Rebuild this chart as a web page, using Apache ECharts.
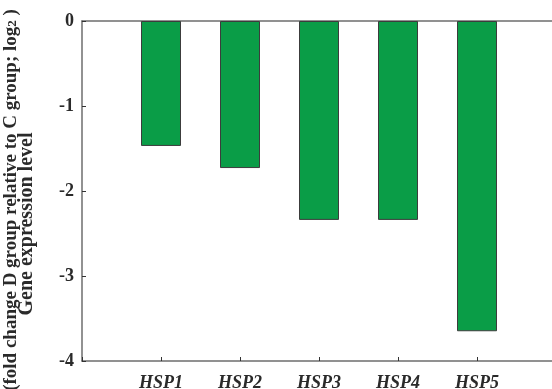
<!DOCTYPE html>
<html>
<head>
<meta charset="utf-8">
<script src="https://cdn.jsdelivr.net/npm/echarts@6/dist/echarts.min.js"></script>
<style>html,body{margin:0;padding:0;background:#fff}#c{width:552px;height:389px}</style>
</head>
<body>
<div id="c"></div>
<script>
var categories = ['HSP1', 'HSP2', 'HSP3', 'HSP4', 'HSP5'];
var values = [-1.47, -1.73, -2.34, -2.34, -3.65];
var yTicks = [0, -1, -2, -3, -4];

var axisCats = [''].concat(categories, ['']);
var barData = [null].concat(values, [null]);
var font = '"Liberation Serif", "Times New Roman", serif';
var axisColor = '#6e6e6e';
var txt = '#2a2a2a';

var chart = echarts.init(document.getElementById('c'), null, {renderer: 'canvas'});
chart.setOption({
  animation: false,
  backgroundColor: '#fff',
  grid: {left: 82, top: 21, right: -4, bottom: 28, containLabel: false, outerBoundsMode: 'none'},
  xAxis: [{
    type: 'category',
    data: axisCats,
    boundaryGap: false,
    position: 'bottom',
    axisLine: {onZero: false, lineStyle: {color: axisColor, width: 1.5}},
    axisTick: {inside: true, length: 4, lineStyle: {color: '#333', width: 1}},
    axisLabel: {fontFamily: font, fontWeight: 'bold', fontStyle: 'italic', fontSize: 18, color: txt, margin: 13, interval: 0},
    splitLine: {show: false}
  }, {
    type: 'category',
    data: axisCats,
    boundaryGap: false,
    position: 'top',
    axisLine: {onZero: false, lineStyle: {color: axisColor, width: 1.5}},
    axisTick: {show: false},
    axisLabel: {show: false},
    splitLine: {show: false}
  }],
  yAxis: {
    type: 'value',
    min: -4, max: 0, interval: 1,
    axisLine: {show: true, lineStyle: {color: axisColor, width: 1.5}},
    axisTick: {show: true, inside: true, length: 4, lineStyle: {color: '#333', width: 1}},
    axisLabel: {
      fontFamily: font, fontWeight: 'bold', fontSize: 18, color: txt, margin: 8,
      formatter: function (v) { return yTicks.indexOf(v) >= 0 ? String(v) : ''; }
    },
    splitLine: {show: false},
    name: '{b|(fold change D group relative to C group; log}{s|2}{c| )}\n{a|Gene expression level}{sp| }',
    nameLocation: 'middle',
    nameRotate: 90,
    nameGap: 48,
    nameTextStyle: {
      fontFamily: font, fontWeight: 'bold', fontSize: 19, color: txt, align: 'center',
      rich: {
        a: {fontFamily: font, fontWeight: 'bold', fontSize: 20, color: txt, lineHeight: 15},
        sp: {fontFamily: font, fontSize: 20, lineHeight: 15, width: 66},
        b: {fontFamily: font, fontWeight: 'bold', fontSize: 19, color: txt, lineHeight: 15},
        c: {fontFamily: font, fontWeight: 'bold', fontSize: 19, color: txt, lineHeight: 15, padding: [0, 18, 0, 0]},
        s: {fontFamily: font, fontWeight: 'bold', fontSize: 13, color: txt, verticalAlign: 'bottom', lineHeight: 15, padding: [7, 0, 0, 0]}
      }
    }
  },
  series: [{
    type: 'bar',
    data: barData,
    barWidth: 40,
    itemStyle: {color: '#0a9d47', borderColor: '#3c3c3c', borderWidth: 1}
  }]
});
</script>
</body>
</html>
